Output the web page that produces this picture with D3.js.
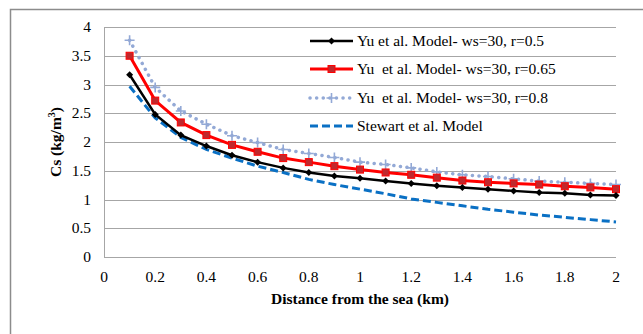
<!DOCTYPE html>
<html>
<head>
<meta charset="utf-8">
<script src="https://cdn.jsdelivr.net/npm/d3@7"></script>
<style>
  body { margin: 0; background: #fff; }
  text { font-family: "Liberation Serif", "Times New Roman", serif; fill: #000; }
</style>
</head>
<body>
<div id="chart"></div>
<script>
// distance from the sea (km)
const distances = [0.1, 0.2, 0.3, 0.4, 0.5, 0.6, 0.7, 0.8, 0.9, 1.0,
                   1.1, 1.2, 1.3, 1.4, 1.5, 1.6, 1.7, 1.8, 1.9, 2.0];

const yuR050 = [3.17, 2.48, 2.12, 1.93, 1.77, 1.65, 1.55, 1.47, 1.41, 1.37,
                1.32, 1.28, 1.24, 1.21, 1.18, 1.15, 1.12, 1.11, 1.08, 1.07];
const yuR065 = [3.50, 2.72, 2.34, 2.12, 1.95, 1.83, 1.72, 1.65, 1.58, 1.52,
                1.47, 1.43, 1.38, 1.33, 1.30, 1.28, 1.26, 1.23, 1.21, 1.18];
const yuR080 = [3.77, 2.95, 2.54, 2.31, 2.11, 1.99, 1.87, 1.80, 1.73, 1.65,
                1.61, 1.55, 1.48, 1.43, 1.40, 1.36, 1.32, 1.30, 1.28, 1.26];
const stewart = [2.97, 2.42, 2.08, 1.87, 1.72, 1.58, 1.47, 1.35, 1.26, 1.18,
                 1.10, 1.01, 0.95, 0.89, 0.83, 0.78, 0.73, 0.69, 0.65, 0.61];

const xTicks = [0, 0.2, 0.4, 0.6, 0.8, 1, 1.2, 1.4, 1.6, 1.8, 2];
const yTicks = [0, 0.5, 1, 1.5, 2, 2.5, 3, 3.5, 4];

const seriesNames = [
  "Yu et al. Model- ws=30, r=0.5",
  "Yu  et al. Model- ws=30, r=0.65",
  "Yu  et al. Model- ws=30, r=0.8",
  "Stewart et al. Model"
];

const series = [
  { name: seriesNames[0], values: yuR050, color: "#000000", width: 2.5, dash: null, marker: "diamond" },
  { name: seriesNames[1], values: yuR065, color: "#ff0000", width: 3, dash: null, marker: "square" },
  { name: seriesNames[2], values: yuR080, color: "#93a9d6", width: 3.5, dash: "0.1 6.5", marker: "cross" },
  { name: seriesNames[3], values: stewart, color: "#0a70c4", width: 3, dash: "8 4", marker: null }
];

const W = 643, H = 334;
const svg = d3.select("#chart").append("svg")
  .attr("width", W).attr("height", H);

// chart frame
svg.append("rect")
  .attr("x", 10.5).attr("y", 9.5)
  .attr("width", W).attr("height", H)
  .attr("fill", "#fff")
  .attr("stroke", "#8c8c8c").attr("stroke-width", 1.5);

const x = d3.scaleLinear().domain([0, 2]).range([104, 616]);
const y = d3.scaleLinear().domain([0, 4]).range([257, 27]);

// gridlines
svg.append("g").selectAll("line").data(yTicks).enter().append("line")
  .attr("x1", x(0)).attr("x2", x(2))
  .attr("y1", d => Math.round(y(d)) + 0.5).attr("y2", d => Math.round(y(d)) + 0.5)
  .attr("stroke", "#a6a6a6").attr("stroke-width", 1);

svg.append("line")
  .attr("x1", x(0) + 0.5).attr("x2", x(0) + 0.5)
  .attr("y1", y(4)).attr("y2", y(0))
  .attr("stroke", "#a6a6a6").attr("stroke-width", 1);

// tick labels
svg.append("g").selectAll("text").data(yTicks).enter().append("text")
  .attr("x", 91).attr("y", d => y(d) + 5)
  .attr("text-anchor", "end")
  .style("font-size", "15.5px")
  .text(d => d);

svg.append("g").selectAll("text").data(xTicks).enter().append("text")
  .attr("x", d => x(d)).attr("y", 282)
  .attr("text-anchor", "middle")
  .style("font-size", "15.5px")
  .text(d => d);

// axis titles
svg.append("text")
  .attr("x", 360).attr("y", 304)
  .attr("text-anchor", "middle")
  .style("font-size", "15.5px").style("font-weight", "bold")
  .text("Distance from the sea (km)");

const yt = svg.append("text")
  .attr("transform", "translate(61,142) rotate(-90)")
  .attr("text-anchor", "middle")
  .style("font-size", "15.5px").style("font-weight", "bold");
yt.append("tspan").text("Cs (kg/m");
yt.append("tspan").attr("dy", -6).style("font-size", "10px").text("3");
yt.append("tspan").attr("dy", 6).text(")");

// lines
const line = d3.line()
  .x((d, i) => x(distances[i]))
  .y(d => y(d));

function drawMarker(g, type, cx, cy, color) {
  if (type === "diamond") {
    g.append("path")
      .attr("d", `M${cx},${cy - 3.5}L${cx + 3.5},${cy}L${cx},${cy + 3.5}L${cx - 3.5},${cy}Z`)
      .attr("fill", "#000");
  } else if (type === "square") {
    g.append("rect")
      .attr("x", cx - 3.5).attr("y", cy - 3.5)
      .attr("width", 7).attr("height", 7)
      .attr("fill", "#c0282d").attr("stroke", "#ff0000").attr("stroke-width", 1);
  } else if (type === "cross") {
    g.append("path")
      .attr("d", `M${cx - 5},${cy}H${cx + 5}M${cx},${cy - 5}V${cy + 5}`)
      .attr("stroke", color).attr("stroke-width", 1.6);
  }
}

// draw back to front like the reference: stewart, r=0.8, r=0.65, r=0.5
[3, 2, 1, 0].forEach(k => {
  const s = series[k];
  const g = svg.append("g");
  g.append("path")
    .attr("d", line(s.values))
    .attr("fill", "none")
    .attr("stroke", s.color)
    .attr("stroke-width", s.width)
    .attr("stroke-linecap", s.dash && s.marker === "cross" ? "round" : "butt")
    .attr("stroke-dasharray", s.dash);
  if (s.marker) {
    s.values.forEach((v, i) => drawMarker(g, s.marker, x(distances[i]), y(v), s.color));
  }
});

// legend
const legendY = [41, 69, 98, 126];
series.forEach((s, k) => {
  const g = svg.append("g");
  const ly = legendY[k];
  g.append("line")
    .attr("x1", 310).attr("x2", 353)
    .attr("y1", ly).attr("y2", ly)
    .attr("stroke", s.color)
    .attr("stroke-width", s.width)
    .attr("stroke-linecap", s.dash && s.marker === "cross" ? "round" : "butt")
    .attr("stroke-dasharray", s.dash);
  if (s.marker) drawMarker(g, s.marker, 331.5, ly, s.color);
  g.append("text")
    .attr("x", 357).attr("y", ly + 5)
    .style("font-size", "15.5px")
    .style("white-space", "pre")
    .attr("xml:space", "preserve")
    .text(s.name);
});
</script>
</body>
</html>
